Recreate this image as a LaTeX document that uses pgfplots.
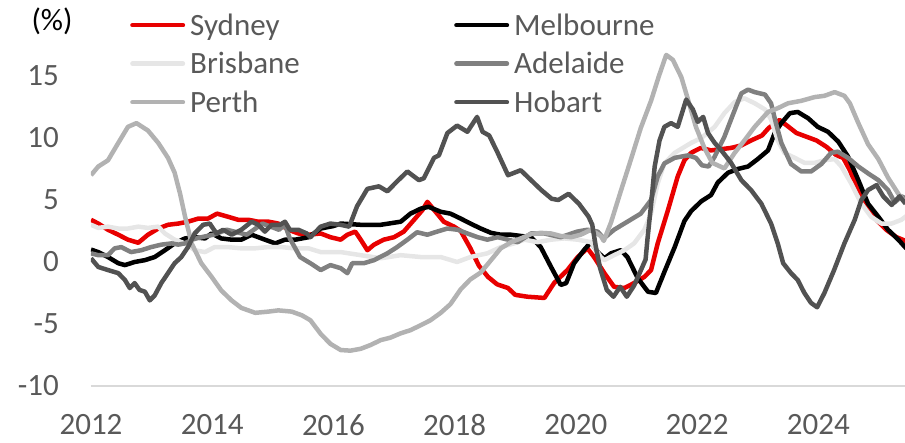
\documentclass[border=0pt]{standalone}
\usepackage{fontspec}
\setmainfont{Carlito}
\usepackage{pgfplots}
\pgfplotsset{compat=1.18}
\definecolor{syd}{RGB}{232,0,0}
\definecolor{bri}{RGB}{230,230,230}
\definecolor{ade}{RGB}{128,128,128}
\definecolor{per}{RGB}{178,178,178}
\definecolor{hob}{RGB}{82,82,82}
\definecolor{txt}{RGB}{89,89,89}
\definecolor{axl}{RGB}{217,217,217}
\begin{document}
\begin{tikzpicture}
\useasboundingbox (-91pt,-57pt) rectangle (814pt,386pt);
\begin{axis}[
  at={(0pt,0pt)}, anchor=south west,
  scale only axis, width=814pt, height=372pt,
  xmin=2012, xmax=2025.43, ymin=-10, ymax=20,
  axis x line*=bottom, axis y line*=left,
  x axis line style={draw=axl, line width=1.3pt, -},
  y axis line style={draw=none},
  major tick length=0pt,
  xtick={2012,2014,...,2024},
  ytick={-10,-5,0,5,10,15},
  /pgf/number format/1000 sep={},
  /pgf/number format/assume math mode=true,
  tick label style={font=\fontsize{31}{37}\selectfont, text=txt, inner sep=0pt},
  xticklabel style={anchor=north, yshift=-28pt},
  yticklabel style={anchor=east, xshift=-32pt},
  legend columns=2,
  legend cell align=left,
  legend style={at={(0.0479,1.0054)}, anchor=north west, draw=none, fill=none, inner sep=0pt,
    font=\fontsize{31}{37}\selectfont, text=txt,
    nodes={inner sep=0pt, text height=23pt, text depth=8pt, text width=259pt, align=left},
    column sep=5pt, row sep=7.5pt},
  legend image code/.code={\path[draw=none, fill=none] (0pt,2.5pt) -- (55pt,2.5pt); \draw[#1, line cap=round] (2.25pt,2.5pt) -- (52.75pt,2.5pt);},
  every axis plot/.append style={line width=4.5pt, line join=round, no markers},
]
\addplot[syd] table {
2012.00 3.4
2012.12 3.1
2012.28 2.6
2012.45 2.2
2012.61 1.8
2012.78 1.55
2012.94 2.2
2013.11 2.7
2013.27 3.0
2013.44 3.1
2013.60 3.25
2013.77 3.5
2013.93 3.5
2014.08 3.9
2014.26 3.65
2014.43 3.4
2014.60 3.4
2014.76 3.25
2014.93 3.25
2015.09 3.1
2015.26 2.6
2015.42 2.3
2015.59 2.2
2015.79 2.3
2015.95 2.0
2016.12 1.8
2016.23 2.2
2016.36 2.45
2016.45 1.8
2016.56 0.95
2016.67 1.4
2016.83 1.8
2017.00 2.0
2017.16 2.45
2017.33 3.4
2017.47 4.2
2017.55 4.85
2017.66 4.2
2017.82 3.25
2017.99 2.85
2018.10 2.5
2018.26 1.1
2018.40 -0.3
2018.55 -1.2
2018.70 -1.8
2018.88 -2.1
2019.00 -2.65
2019.20 -2.8
2019.48 -2.9
2019.64 -1.7
2019.86 -0.65
2020.03 0.4
2020.19 1.1
2020.30 0.4
2020.47 -0.9
2020.63 -2.0
2020.80 -2.1
2020.96 -1.7
2021.13 -1.2
2021.24 -0.65
2021.35 1.5
2021.52 4.2
2021.68 6.9
2021.79 8.2
2021.90 8.8
2022.06 9.2
2022.23 9.0
2022.40 9.1
2022.56 9.2
2022.73 9.4
2022.89 9.8
2023.07 10.2
2023.18 10.8
2023.36 11.45
2023.47 11.05
2023.64 10.4
2023.86 10.0
2023.97 9.8
2024.13 9.3
2024.30 8.6
2024.41 8.4
2024.52 7.4
2024.63 6.1
2024.79 4.7
2024.96 3.4
2025.12 2.6
2025.29 2.0
2025.44 1.7
};
\addlegendentry{Sydney}
\addplot[black] table {
2012.00 1.0
2012.12 0.8
2012.28 0.4
2012.45 -0.1
2012.56 -0.25
2012.72 0.0
2012.89 0.15
2013.05 0.4
2013.22 0.95
2013.38 1.5
2013.55 1.9
2013.71 2.0
2013.88 1.9
2013.99 2.3
2014.15 1.9
2014.32 1.8
2014.48 1.8
2014.65 2.2
2014.76 2.0
2014.87 1.8
2015.04 1.5
2015.20 1.8
2015.37 1.8
2015.59 2.0
2015.79 2.7
2016.00 2.9
2016.12 3.1
2016.45 3.0
2016.78 3.0
2017.11 3.25
2017.27 3.9
2017.44 4.3
2017.57 4.45
2017.77 4.05
2017.93 3.9
2018.10 3.5
2018.26 3.1
2018.43 2.7
2018.60 2.35
2018.76 2.2
2018.93 2.2
2019.09 2.1
2019.26 2.0
2019.42 1.2
2019.59 -0.4
2019.75 -1.85
2019.84 -1.7
2019.97 -0.1
2020.14 1.0
2020.25 1.6
2020.36 0.8
2020.47 0.3
2020.58 0.7
2020.74 0.95
2020.85 0.4
2021.02 -1.3
2021.19 -2.4
2021.32 -2.5
2021.46 -0.8
2021.63 1.2
2021.79 3.3
2021.90 4.1
2022.07 4.9
2022.23 5.4
2022.34 6.4
2022.51 7.2
2022.67 7.5
2022.84 7.7
2023.00 8.3
2023.17 9.0
2023.28 10.4
2023.39 11.2
2023.53 12.0
2023.66 12.1
2023.83 11.6
2023.99 10.9
2024.16 10.5
2024.33 9.7
2024.49 8.5
2024.66 6.6
2024.82 4.7
2024.99 3.65
2025.15 2.6
2025.32 1.8
2025.45 1.1
};
\addlegendentry{Melbourne}
\addplot[bri] table {
2012.00 3.0
2012.12 2.75
2012.28 2.85
2012.45 2.7
2012.61 2.7
2012.78 2.85
2012.94 2.75
2013.11 2.85
2013.22 2.3
2013.38 1.8
2013.55 1.5
2013.71 0.95
2013.88 0.8
2014.04 1.2
2014.26 1.2
2014.48 1.1
2014.70 1.1
2014.92 1.2
2015.14 1.2
2015.36 1.1
2015.59 1.1
2015.79 0.8
2016.12 0.8
2016.45 0.55
2016.78 0.3
2017.11 0.55
2017.44 0.4
2017.77 0.4
2018.04 0.0
2018.26 0.4
2018.54 0.7
2018.76 1.2
2018.98 1.5
2019.15 1.8
2019.37 1.6
2019.59 1.8
2019.81 1.9
2020.03 1.8
2020.25 1.6
2020.41 0.4
2020.47 0.15
2020.63 0.55
2020.80 0.95
2020.96 1.5
2021.13 2.6
2021.24 3.9
2021.35 6.35
2021.46 7.95
2021.63 8.8
2021.90 9.6
2022.07 10.0
2022.29 10.9
2022.45 12.0
2022.62 12.9
2022.78 13.2
2022.95 12.8
2023.12 12.3
2023.22 11.5
2023.33 9.8
2023.44 8.8
2023.61 8.4
2023.77 8.0
2023.94 8.0
2024.10 8.2
2024.27 8.3
2024.38 7.7
2024.54 6.35
2024.71 4.7
2024.87 3.65
2025.04 3.1
2025.21 3.1
2025.37 3.4
2025.45 3.7
};
\addlegendentry{Brisbane}
\addplot[ade] table {
2012.00 0.7
2012.12 0.55
2012.28 0.55
2012.39 1.1
2012.50 1.2
2012.66 0.8
2012.83 0.95
2012.99 1.2
2013.16 1.4
2013.33 1.5
2013.44 1.4
2013.55 1.5
2013.66 1.8
2013.82 2.0
2014.02 2.2
2014.24 2.6
2014.57 2.2
2014.83 3.1
2015.10 2.6
2015.20 3.0
2015.28 1.9
2015.45 0.4
2015.62 -0.1
2015.79 -0.65
2015.95 -0.25
2016.12 -0.5
2016.23 -0.9
2016.31 -0.1
2016.50 -0.1
2016.67 0.15
2016.89 0.7
2017.05 1.2
2017.22 1.8
2017.38 2.4
2017.55 2.2
2017.71 2.45
2017.88 2.7
2018.05 2.6
2018.21 2.3
2018.38 2.0
2018.54 1.8
2018.71 2.0
2018.88 1.8
2019.04 1.6
2019.26 2.3
2019.48 2.3
2019.75 2.0
2020.02 2.45
2020.19 2.6
2020.36 2.45
2020.46 1.9
2020.63 2.6
2020.85 3.25
2021.07 3.9
2021.24 5.0
2021.35 6.9
2021.46 7.95
2021.63 8.4
2021.85 8.6
2021.98 8.4
2022.08 7.8
2022.19 7.7
2022.29 8.5
2022.45 10.1
2022.62 12.25
2022.73 13.6
2022.84 13.9
2022.95 13.7
2023.12 13.5
2023.22 12.8
2023.30 11.2
2023.39 9.6
2023.55 7.9
2023.72 7.3
2023.88 7.3
2024.05 7.9
2024.21 8.8
2024.32 8.9
2024.49 8.4
2024.66 7.7
2024.82 7.15
2024.99 6.6
2025.15 5.8
2025.26 4.8
2025.37 5.3
2025.45 5.1
};
\addlegendentry{Adelaide}
\addplot[per] table {
2012.00 7.0
2012.12 7.7
2012.28 8.2
2012.45 9.6
2012.61 10.9
2012.75 11.2
2012.94 10.6
2013.11 9.6
2013.27 8.4
2013.38 7.2
2013.47 5.5
2013.55 3.7
2013.66 1.5
2013.82 -0.1
2013.99 -1.2
2014.15 -2.3
2014.32 -3.1
2014.48 -3.7
2014.71 -4.1
2014.93 -4.0
2015.09 -3.9
2015.31 -4.0
2015.48 -4.3
2015.62 -4.7
2015.79 -5.8
2015.95 -6.6
2016.12 -7.1
2016.28 -7.15
2016.45 -7.0
2016.61 -6.7
2016.78 -6.3
2016.94 -6.1
2017.11 -5.75
2017.27 -5.5
2017.44 -5.1
2017.60 -4.7
2017.77 -4.1
2017.93 -3.4
2018.10 -2.2
2018.26 -1.4
2018.43 -0.85
2018.60 0.15
2018.76 1.1
2018.93 1.6
2019.09 1.9
2019.26 2.25
2019.42 2.35
2019.59 2.3
2019.75 2.1
2019.92 2.0
2020.08 2.2
2020.25 2.6
2020.41 2.1
2020.46 1.7
2020.58 3.2
2020.74 5.7
2020.91 8.3
2021.07 10.8
2021.24 13.0
2021.37 15.0
2021.49 16.7
2021.60 16.3
2021.74 14.9
2021.85 13.1
2021.98 10.9
2022.12 9.2
2022.25 8.0
2022.45 7.55
2022.62 8.8
2022.78 9.8
2022.95 10.9
2023.17 12.1
2023.33 12.4
2023.50 12.8
2023.72 13.0
2023.94 13.3
2024.10 13.4
2024.27 13.7
2024.43 13.4
2024.52 12.8
2024.66 11.2
2024.82 9.5
2024.99 8.3
2025.15 6.8
2025.32 5.5
2025.44 4.8
};
\addlegendentry{Perth}
\addplot[hob] table {
2012.00 0.3
2012.12 -0.4
2012.28 -0.65
2012.45 -0.9
2012.56 -1.45
2012.64 -2.1
2012.72 -1.7
2012.80 -2.25
2012.89 -2.4
2012.97 -3.1
2013.05 -2.7
2013.16 -1.7
2013.27 -0.9
2013.38 -0.1
2013.49 0.4
2013.60 1.2
2013.71 2.3
2013.85 3.0
2013.96 3.1
2014.07 2.3
2014.18 2.6
2014.32 2.2
2014.48 2.6
2014.65 3.25
2014.76 3.0
2014.87 2.45
2014.98 3.0
2015.12 3.0
2015.20 3.25
2015.28 2.6
2015.42 2.6
2015.56 2.3
2015.62 2.0
2015.79 2.85
2015.95 3.1
2016.12 3.0
2016.26 2.85
2016.39 4.5
2016.56 5.9
2016.75 6.1
2016.89 5.7
2017.05 6.5
2017.22 7.3
2017.41 6.6
2017.49 6.75
2017.66 8.4
2017.74 8.6
2017.88 10.4
2018.04 11.0
2018.21 10.5
2018.37 11.7
2018.46 10.5
2018.57 10.2
2018.71 8.8
2018.88 7.0
2019.09 7.4
2019.26 6.6
2019.43 5.8
2019.60 5.1
2019.71 5.0
2019.88 5.5
2020.05 4.7
2020.21 3.65
2020.27 3.0
2020.33 1.2
2020.40 -0.5
2020.51 -2.25
2020.62 -2.8
2020.73 -2.0
2020.84 -2.8
2020.96 -1.9
2021.06 -0.8
2021.15 0.2
2021.18 1.8
2021.24 4.6
2021.30 7.7
2021.38 9.8
2021.46 10.9
2021.57 11.2
2021.68 10.9
2021.82 13.1
2021.93 12.3
2022.01 11.3
2022.10 11.7
2022.18 10.4
2022.29 9.6
2022.40 9.0
2022.56 8.0
2022.73 6.6
2022.89 5.8
2023.06 4.7
2023.22 3.1
2023.33 1.5
2023.42 -0.1
2023.55 -0.9
2023.66 -1.45
2023.77 -2.5
2023.88 -3.3
2023.98 -3.65
2024.10 -2.5
2024.26 -0.65
2024.43 1.5
2024.60 3.4
2024.71 5.0
2024.82 5.8
2024.96 6.2
2025.07 5.3
2025.21 4.6
2025.34 5.3
2025.44 4.7
};
\addlegendentry{Hobart}
\end{axis}
\node[font=\fontsize{31}{37}\selectfont, text=black, inner sep=0pt] at (-39pt,365pt) {(\%)};
\end{tikzpicture}
\end{document}
